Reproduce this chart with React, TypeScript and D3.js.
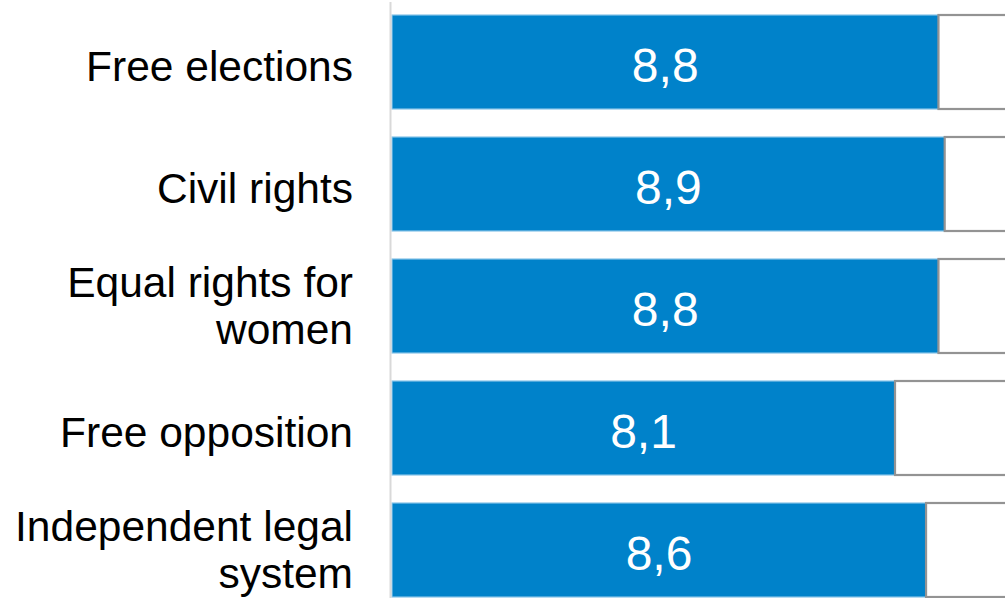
import React from "react";
import * as d3 from "d3";

const categories: string[] = [
  "Free elections",
  "Civil rights",
  "Equal rights for women",
  "Free opposition",
  "Independent legal system",
];
const categoryLines: string[][] = [
  ["Free elections"],
  ["Civil rights"],
  ["Equal rights for", "women"],
  ["Free opposition"],
  ["Independent legal", "system"],
];
const values: number[] = [8.8, 8.9, 8.8, 8.1, 8.6];
const maxValue = 10;

const W = 1005;
const H = 598;
const FONT = "'Liberation Sans', Arial, Helvetica, sans-serif";

export default function App() {
  const x = d3.scaleLinear().domain([0, maxValue]).range([392, 1013]);
  const y = d3
    .scaleBand<string>()
    .domain(categories)
    .range([1, 611])
    .paddingInner(28 / 122)
    .paddingOuter(14 / 122);
  const fmt = (v: number) => d3.format(".1f")(v).replace(".", ",");

  return (
    <svg
      width={W}
      height={H}
      style={{ position: "absolute", left: 0, top: 0, display: "block" }}
    >
      <rect x={0} y={0} width={W} height={H} fill="#ffffff" />
      {categories.map((c, i) => {
        const top = y(c)!;
        const bw = y.bandwidth();
        const cy = top + bw / 2;
        const v = values[i];
        const lines = categoryLines[i];
        return (
          <g key={c}>
            <rect
              x={x(0)}
              y={top}
              width={x(v) - x(0)}
              height={bw}
              fill="#0082CA"
              stroke="#86c3e8"
              strokeWidth={1.2}
            />
            <rect
              x={x(v)}
              y={top}
              width={x(maxValue) - x(v)}
              height={bw}
              fill="#ffffff"
              stroke="#939393"
              strokeWidth={2.2}
            />
            <text
              x={(x(0) + x(v)) / 2}
              y={cy + 20}
              textAnchor="middle"
              fontFamily={FONT}
              fontSize={48}
              fill="#ffffff"
            >
              {fmt(v)}
            </text>
            {lines.length === 1 ? (
              <text
                x={353}
                y={cy + 18.5}
                textAnchor="end"
                fontFamily={FONT}
                fontSize={42.5}
                fill="#000000"
              >
                {lines[0]}
              </text>
            ) : (
              <text
                x={353}
                y={Math.min(cy + 38, 592) - 47}
                textAnchor="end"
                fontFamily={FONT}
                fontSize={42.5}
                fill="#000000"
              >
                {lines.map((l, j) => (
                  <tspan key={j} x={353} dy={j === 0 ? 0 : 47}>
                    {l}
                  </tspan>
                ))}
              </text>
            )}
          </g>
        );
      })}
      <line
        x1={390.5}
        x2={390.5}
        y1={2}
        y2={H}
        stroke="#d9d9d9"
        strokeWidth={2}
      />
    </svg>
  );
}
